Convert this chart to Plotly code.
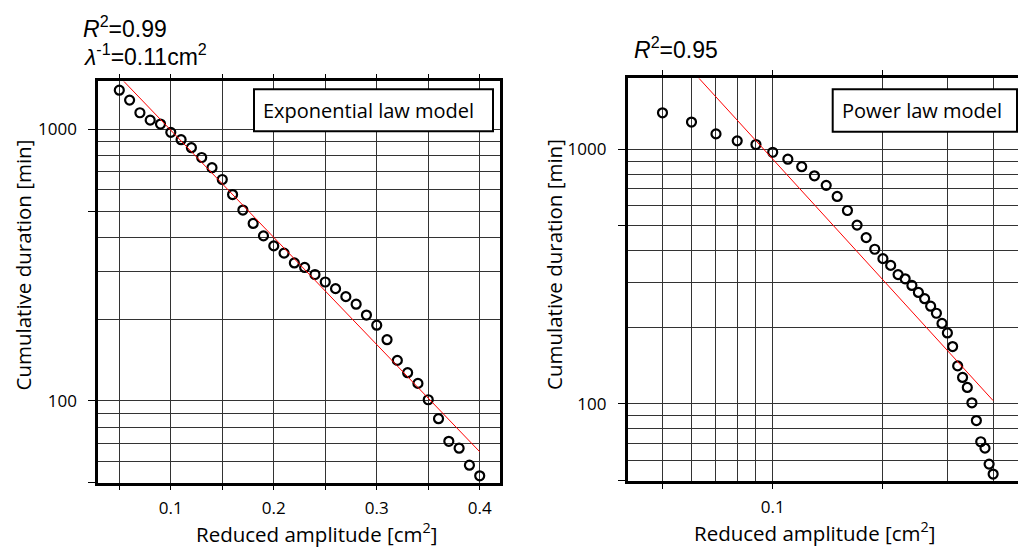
import plotly.graph_objects as go
import math

# ---------------- data ----------------
amplitude = [0.05, 0.06, 0.07, 0.08, 0.09, 0.10, 0.11, 0.12, 0.13, 0.14,
             0.15, 0.16, 0.17, 0.18, 0.19, 0.20, 0.21, 0.22, 0.23, 0.24,
             0.25, 0.26, 0.27, 0.28, 0.29, 0.30, 0.31, 0.32, 0.33, 0.34,
             0.35, 0.36, 0.37, 0.38, 0.39, 0.40]
duration = [1392, 1280, 1150, 1080, 1045, 974, 915, 855, 787, 722,
            653, 575, 504, 450, 405, 372, 350, 322, 310, 292,
            274, 259, 242, 227, 207, 190, 168, 141, 127, 116,
            101, 86, 71, 67, 58, 53]

exp_fit_x = [0.05, 0.40]
exp_fit_y = [1562, 65]
pow_fit_x = [0.05, 0.40]
pow_fit_y = [2730, 103]

left_xtick_vals = [0.05, 0.10, 0.15, 0.20, 0.25, 0.30, 0.35, 0.40]
left_xtick_text = ["", "0.1", "", "0.2", "", "0.3", "", "0.4"]
right_xtick_vals = [0.05, 0.1, 0.2]
right_xtick_text = ["", "0.1", ""]
right_xminor_vals = [0.06, 0.07, 0.08, 0.09, 0.3, 0.4]
ytick_vals = [50, 100, 500, 1000]
ytick_text = ["", "100", "", "1000"]
yminor_vals = [60, 70, 80, 90, 200, 300, 400, 600, 700, 800, 900]

W, H = 1018, 549


def px(x):
    return x / W


def py(y):
    return 1 - y / H


FONT = "Open Sans"
GRID = "#333333"

marker_style = dict(symbol="circle-open", size=9, color="black",
                    line=dict(width=2.2, color="black"))

fig = go.Figure()
fig.add_trace(go.Scatter(x=amplitude, y=duration, mode="markers",
                         marker=marker_style, xaxis="x", yaxis="y", showlegend=False))
fig.add_trace(go.Scatter(x=exp_fit_x, y=exp_fit_y, mode="lines",
                         line=dict(color="red", width=1),
                         xaxis="x", yaxis="y", showlegend=False))
fig.add_trace(go.Scatter(x=amplitude, y=duration, mode="markers",
                         marker=marker_style, xaxis="x2", yaxis="y2", showlegend=False))
fig.add_trace(go.Scatter(x=pow_fit_x, y=pow_fit_y, mode="lines",
                         line=dict(color="red", width=1),
                         xaxis="x2", yaxis="y2", showlegend=False))

common = dict(showline=True, linewidth=3, linecolor="black", ticks="outside",
              tickwidth=1, tickcolor="black", showgrid=True, gridcolor=GRID,
              gridwidth=1, zeroline=False, tickmode="array",
              tickfont=dict(family=FONT, size=17, color="black"))

fig.update_layout(
    width=W, height=H, margin=dict(l=0, r=0, t=0, b=0),
    paper_bgcolor="white", plot_bgcolor="white", showlegend=False,
    xaxis=dict(common, domain=[px(98.3), px(500)], range=[0.0296, 0.4197],
               anchor="y", mirror="allticks", ticklen=4,
               tickvals=left_xtick_vals, ticktext=left_xtick_text,
               ticklabelstandoff=4),
    yaxis=dict(common, type="log", domain=[py(482.7), py(81.4)],
               range=[math.log10(50), math.log10(1500)], anchor="x",
               mirror=True, ticklen=7, tickvals=ytick_vals, ticktext=ytick_text,
               minor=dict(tickmode="array", tickvals=yminor_vals, showgrid=True,
                          gridcolor=GRID, gridwidth=1, ticks=""),
               ticklabelstandoff=8),
    xaxis2=dict(common, type="log", domain=[px(627.8), 1.0],
                range=[math.log10(0.0402), math.log10(0.4677)], anchor="y2",
                mirror="allticks", ticklen=5,
                tickvals=right_xtick_vals, ticktext=right_xtick_text,
                minor=dict(tickmode="array", tickvals=right_xminor_vals, showgrid=True,
                           gridcolor=GRID, gridwidth=1, ticks=""),
                ticklabelstandoff=4),
    yaxis2=dict(common, type="log", domain=[py(480.5), py(78.4)],
                range=[math.log10(50), math.log10(1900)], anchor="x2",
                mirror=False, ticklen=7, tickvals=ytick_vals, ticktext=ytick_text,
                minor=dict(tickmode="array", tickvals=yminor_vals, showgrid=True,
                           gridcolor=GRID, gridwidth=1, ticks=""),
                ticklabelstandoff=8),
)

# legend-like boxes
fig.add_shape(type="rect", xref="paper", yref="paper",
              x0=px(254), x1=px(493), y0=py(131.3), y1=py(89.3),
              line=dict(color="black", width=2), fillcolor="white", layer="above")
fig.add_shape(type="rect", xref="paper", yref="paper",
              x0=px(832.7), x1=px(1017), y0=py(131.7), y1=py(89.3),
              line=dict(color="black", width=2), fillcolor="white", layer="above")

box_font = dict(family=FONT, size=20, color="black")
ann = []
ann.append(dict(text="Exponential law model", x=px(261), y=py(110.3),
                xanchor="left", yanchor="middle", font=box_font))
ann.append(dict(text="Power law model", x=px(839.5), y=py(110.5),
                xanchor="left", yanchor="middle", font=box_font))

stat_font = dict(family="Liberation Sans", size=23, color="black")
ann.append(dict(text="<i>R</i><sup>2</sup>=0.99", x=px(81), y=py(27),
                xanchor="left", yanchor="middle", font=stat_font))
ann.append(dict(text="<i>λ</i><sup>-1</sup>=0.11cm<sup>2</sup>", x=px(81), y=py(55),
                xanchor="left", yanchor="middle", font=stat_font))
ann.append(dict(text="<i>R</i><sup>2</sup>=0.95", x=px(632), y=py(48),
                xanchor="left", yanchor="middle", font=stat_font))

title_font = dict(family=FONT, size=20.5, color="black")
ann.append(dict(text="Cumulative duration [min]", x=px(22.5), y=py(265),
                xanchor="center", yanchor="middle", textangle=-90, font=title_font))
ann.append(dict(text="Cumulative duration [min]", x=px(554), y=py(265),
                xanchor="center", yanchor="middle", textangle=-90, font=title_font))
ann.append(dict(text="Reduced amplitude [cm<sup>2</sup>]", x=px(316), y=py(533),
                xanchor="center", yanchor="middle", font=title_font))
ann.append(dict(text="Reduced amplitude [cm<sup>2</sup>]", x=px(814), y=py(532),
                xanchor="center", yanchor="middle", font=title_font))
for a in ann:
    a.update(xref="paper", yref="paper", showarrow=False)

fig.update_layout(annotations=ann)
fig.write_html("out.html",
               config={"displayModeBar": False},
               post_script="document.body.style.margin='0px';"
                           "document.body.style.padding='0px';")
